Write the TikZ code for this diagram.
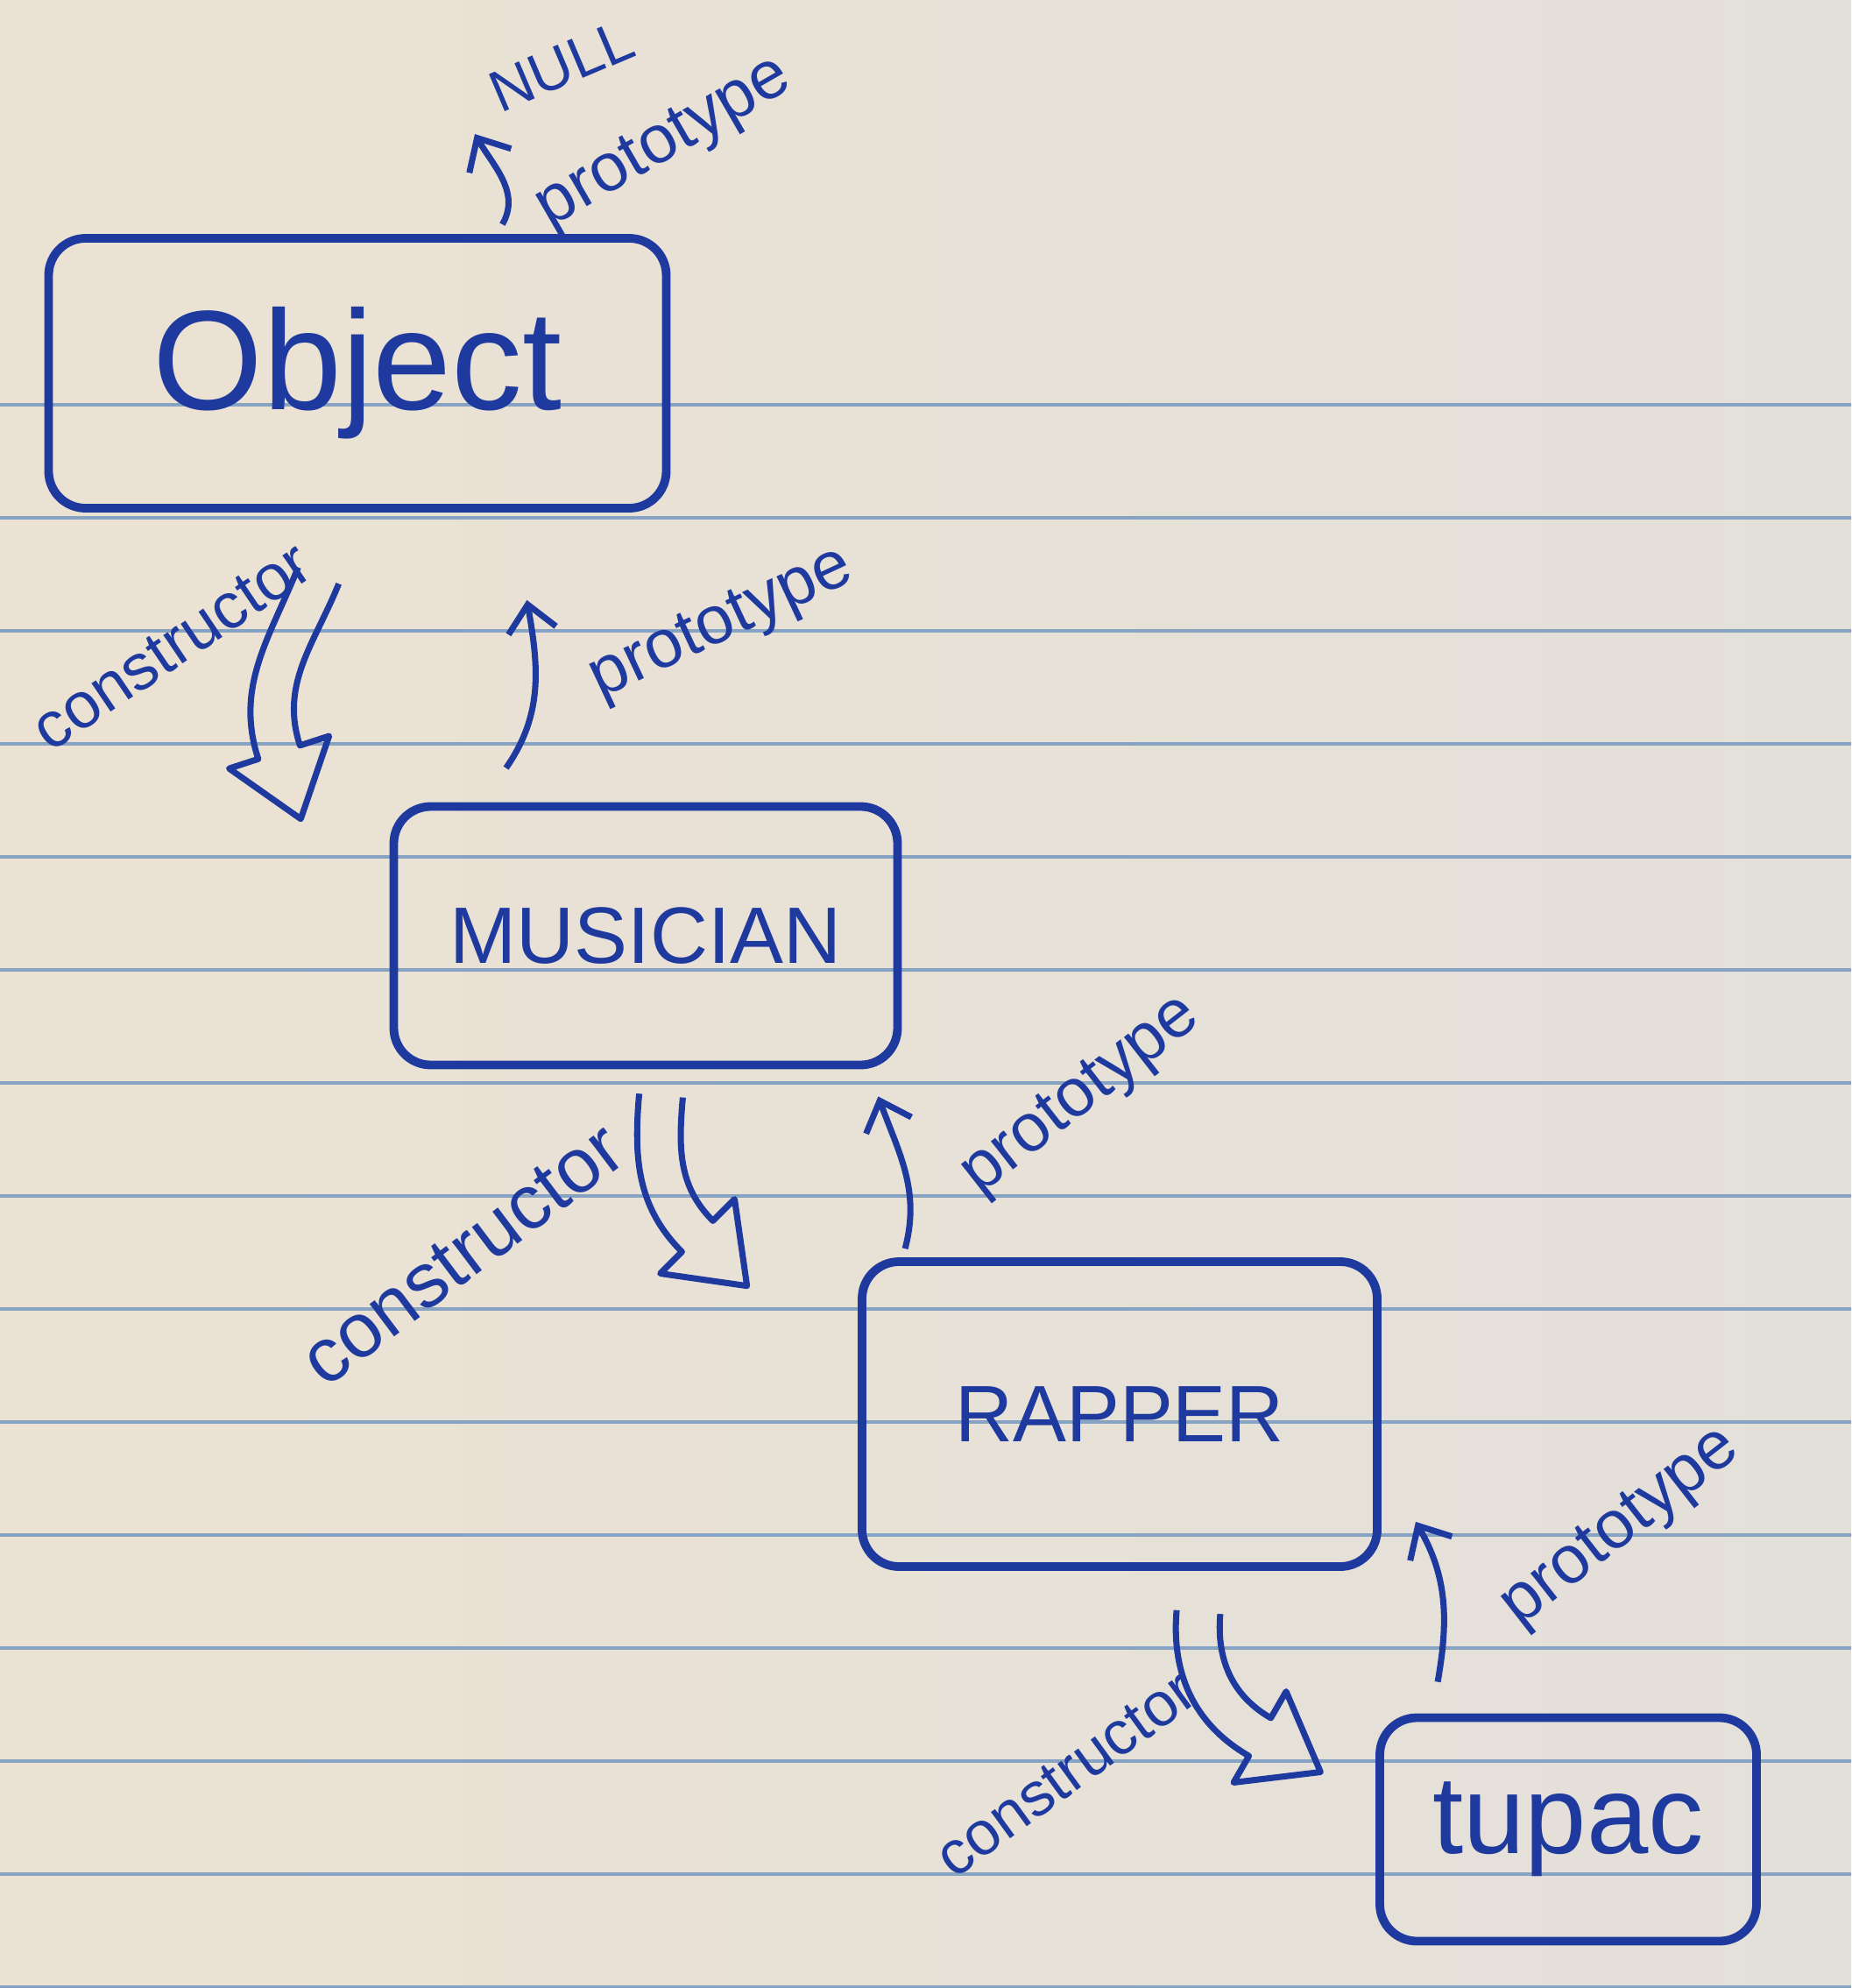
\documentclass[tikz,border=0pt]{standalone}
\usepackage{fontspec}
\setmainfont{Liberation Sans}
\usetikzlibrary{arrows.meta,calc}

\definecolor{ink}{HTML}{1F3A9E}
\definecolor{paperleft}{HTML}{ECE2D3}
\definecolor{paperright}{HTML}{E3E0DA}
\definecolor{ruleblue}{HTML}{86A3C4}

% hollow "constructor" arrow: start, end, out angle, in angle
\newcommand{\fatarrow}[4]{%
  \draw[hollow] ($(#1)+(#3+90:2.5mm)$) to[out=#3,in=#4] ($(#2)+(#4-90:2.5mm)$)
    -- ($(#2)+(#4-90:6mm)$) -- ($(#2)+(#4+180:8mm)$) -- ($(#2)+(#4+90:6mm)$)
    -- ($(#2)+(#4+90:2.5mm)$) to[out=#4,in=#3] ($(#1)+(#3-90:2.5mm)$);}

\begin{document}
\begin{tikzpicture}[
  >={Straight Barb[length=3mm,width=5.5mm]},
  box/.style={draw=ink, line width=2.8pt, rounded corners=12pt, text=ink, inner sep=0pt},
  note/.style={text=ink, font=\fontsize{22}{24}\selectfont},
  proto/.style={->, draw=ink, line width=2pt},
  hollow/.style={draw=ink, line width=2pt, line join=round},
  paperline/.style={draw=ruleblue, line width=1pt}
]
% the sheet
\useasboundingbox (0,0) rectangle (21.13,-22.69);
\shade[left color=paperleft, right color=paperright] (0,0) rectangle (21.13,-22.69);
\foreach \k in {0,...,14}
  \draw[paperline] (0,-4.62-1.29*\k) -- (21.13,-4.62-1.29*\k);

% boxes
\node[box, minimum width=7.05cm, minimum height=3.08cm, font=\fontsize{46}{50}\selectfont] (obj) at (4.08,-4.26) {Object};
\node[box, minimum width=5.75cm, minimum height=2.95cm, font=\fontsize{26}{30}\selectfont] (mus) at (7.37,-10.68) {MUSICIAN};
\node[box, minimum width=5.88cm, minimum height=3.48cm, font=\fontsize{26}{30}\selectfont] (rap) at (12.78,-16.14) {RAPPER};
\node[box, minimum width=4.30cm, minimum height=2.55cm, font=\fontsize{36}{40}\selectfont] (tup) at (17.90,-20.88) {tupac};

% labels
\node[note, rotate=23, font=\fontsize{19}{21}\selectfont] (null) at (6.41,-0.75) {NULL};
\node[note, rotate=30] (pr0) at (7.59,-1.65) {prototype};
\node[note, rotate=34, font=\fontsize{21}{23}\selectfont] (co1) at (1.96,-7.38) {constructor};
\node[note, rotate=25] (pr1) at (8.24,-7.14) {prototype};
\node[note, rotate=37, font=\fontsize{25}{27}\selectfont] (co2) at (5.28,-14.32) {constructor};
\node[note, rotate=38] (pr2) at (12.35,-12.52) {prototype};
\node[note, rotate=36, font=\fontsize{20}{22}\selectfont] (co3) at (12.17,-20.25) {constructor};
\node[note, rotate=38] (pr3) at (18.51,-17.45) {prototype};

% prototype links
\coordinate (nulltip) at (5.42,-1.53);
\draw[proto] ([xshift=-1.92cm,yshift=0.11cm]obj.north east) to[out=60,in=-60] (nulltip);
\draw[proto] ([xshift=1.33cm,yshift=0.39cm]mus.north west) to[out=55,in=-80] ([xshift=-1.64cm,yshift=-1.0cm]obj.south east);
\draw[proto] ([xshift=0.54cm,yshift=0.1cm]rap.north west) to[out=75,in=-70] ([xshift=-0.27cm,yshift=-0.31cm]mus.south east);
\draw[proto] ([xshift=0.71cm,yshift=0.36cm]tup.north west) to[out=80,in=-60] ([xshift=0.39cm,yshift=0.56cm]rap.south east);

% constructor links
\coordinate (c1a) at ([xshift=-0.445cm,yshift=-0.72cm]obj.south);
\coordinate (c1b) at ([xshift=-1.26cm,yshift=0.57cm]mus.north west);
\coordinate (c2a) at ([xshift=0.175cm,yshift=-0.3cm]mus.south);
\coordinate (c2b) at ([xshift=-1.83cm,yshift=0.24cm]rap.north west);
\coordinate (c3a) at ([xshift=0.9cm,yshift=-0.47cm]rap.south);
\coordinate (c3b) at ([xshift=-1.32cm,yshift=1.055cm]tup.west);
\fatarrow{c1a}{c1b}{-112}{108}
\fatarrow{c2a}{c2b}{-95}{135}
\fatarrow{c3a}{c3b}{-95}{150}
\end{tikzpicture}
\end{document}
